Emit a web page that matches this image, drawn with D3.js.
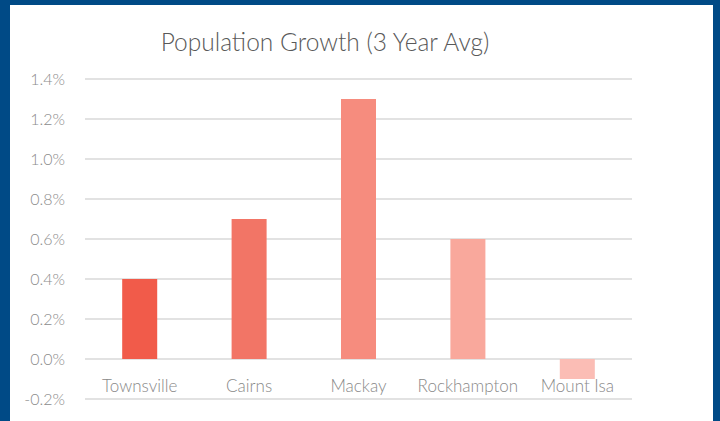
<html>
<head><meta charset="utf-8"></head>
<script src='https://d3js.org/d3.v7.min.js'></script>
<style>
  body {margin: 0;}
  text {font-family: Lato, 'Noto Sans', sans-serif; font-weight: 300;}
</style>
<body onload='init()'>
<svg width=720 height=421>
</svg>
<script>
const cities = ["Townsville", "Cairns", "Mackay", "Rockhampton", "Mount Isa"];
const growth = [0.4, 0.7, 1.3, 0.6, -0.1];
const barColors = ["#f15b4a", "#f27566", "#f68c7e", "#f9a89c", "#fbbdb5"];
const yTicks = [-0.2, 0.0, 0.2, 0.4, 0.6, 0.8, 1.0, 1.2, 1.4];

function init() {

var plot_left = 85;
var plot_right = 632;
var plot_top = 79;
var plot_bottom = 399;

var svg = d3.select('svg');

// blue frame
svg.append('rect')
   .attr('width', 720).attr('height', 421)
   .attr('fill', '#004a86');
svg.append('rect')
   .attr('x', 10).attr('y', 5)
   .attr('width', 703).attr('height', 416)
   .attr('fill', '#ffffff');

xScale = d3.scaleBand().domain(cities).range([plot_left, plot_right])
           .paddingInner(0.68).paddingOuter(0.34);
yScale = d3.scaleLinear().domain([-0.2, 1.4]).range([plot_bottom, plot_top]);

//gridlines
svg.append('g')
   .selectAll('line')
   .data(yTicks)
   .enter()
   .append('line')
   .attr('x1', plot_left)
   .attr('x2', plot_right)
   .attr('y1', d => yScale(d))
   .attr('y2', d => yScale(d))
   .attr('stroke', '#d9d9d9')
   .attr('stroke-width', 1.5);

//y labels (plain hyphen for the minus, as in the original)
svg.append('g')
   .selectAll('text')
   .data(yTicks)
   .enter()
   .append('text')
   .text(d => d.toFixed(1) + '%')
   .attr('x', 65)
   .attr('y', d => yScale(d))
   .attr('dy', '0.35em')
   .attr('text-anchor', 'end')
   .attr('fill', '#8c8c8c')
   .style('font-size', '16px');

//bars
svg.append('g')
   .selectAll('rect')
   .data(growth)
   .enter()
   .append('rect')
   .attr('x', (d, i) => xScale(cities[i]))
   .attr('width', xScale.bandwidth())
   .attr('y', d => yScale(Math.max(0, d)))
   .attr('height', d => Math.abs(yScale(d) - yScale(0)))
   .attr('fill', (d, i) => barColors[i]);

//category labels
svg.append('g')
   .selectAll('text')
   .data(cities)
   .enter()
   .append('text')
   .text(d => d)
   .attr('x', d => xScale(d) + xScale.bandwidth() / 2)
   .attr('y', 392)
   .attr('text-anchor', 'middle')
   .attr('fill', '#898989')
   .style('font-size', '17px');

//title
svg.append('text')
   .text('Population Growth (3 Year Avg)')
   .attr('x', 325)
   .attr('y', 51)
   .attr('text-anchor', 'middle')
   .attr('fill', '#595959')
   .style('font-size', '24.5px');
}
</script>
</body>
</html>
